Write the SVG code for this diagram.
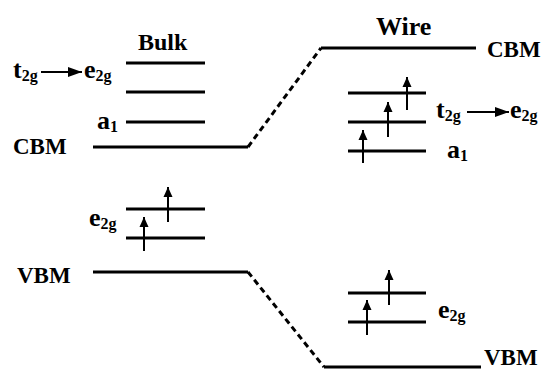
<svg xmlns="http://www.w3.org/2000/svg" width="542" height="371" viewBox="0 0 542 371">
<style>
.lv{stroke:#000;stroke-width:3;fill:none}
.dash{stroke:#000;stroke-width:3;fill:none;stroke-dasharray:6 4}
.sp{stroke:#000;stroke-width:2;fill:none}
.t{font-family:"Liberation Serif","Times New Roman",serif;font-weight:bold;fill:#000}
.big{font-size:24px}
.w{font-size:26px}
.m{font-size:23px}
.l{font-size:26px}
.s{font-size:16px}
</style>
<defs>
<marker id="ah" markerWidth="10" markerHeight="12" refX="10" refY="6" orient="auto" markerUnits="userSpaceOnUse">
<path d="M0,1.5 L10,6 L0,10.5 Z" fill="#000"/>
</marker>
<marker id="ha" markerWidth="14" markerHeight="12" refX="14" refY="6" orient="auto" markerUnits="userSpaceOnUse">
<path d="M0,1 L14,6 L0,11 Z" fill="#000"/>
</marker>
</defs>
<rect width="542" height="371" fill="#fff"/>
<g id="connectors">
<path class="dash" d="M248,147 L321,48"/>
<path class="dash" d="M248,272 L324,367"/>
</g>
<g id="bulk">
<text class="t big" x="138" y="50">Bulk</text>
<line class="lv" x1="126" y1="63" x2="205" y2="63"/>
<line class="lv" x1="126" y1="92" x2="205" y2="92"/>
<line class="lv" x1="126" y1="122" x2="205" y2="122"/>
<line class="lv" x1="93" y1="147" x2="248" y2="147"/>
<line class="lv" x1="126" y1="209" x2="205" y2="209"/>
<line class="lv" x1="126" y1="238" x2="205" y2="238"/>
<line class="lv" x1="93" y1="272" x2="248" y2="272"/>
<line class="sp" x1="144" y1="251" x2="144" y2="217" marker-end="url(#ah)"/>
<line class="sp" x1="168" y1="222" x2="168" y2="187" marker-end="url(#ah)"/>
<text class="t l" x="13" y="78">t<tspan class="s" dy="3">2g</tspan></text>
<line class="sp" x1="41" y1="72" x2="82" y2="72" marker-end="url(#ha)"/>
<text class="t l" x="84" y="78">e<tspan class="s" dy="3">2g</tspan></text>
<text class="t l" x="97" y="129">a<tspan class="s" dy="3">1</tspan></text>
<text class="t m" x="13" y="154">CBM</text>
<text class="t l" x="89" y="226">e<tspan class="s" dy="3">2g</tspan></text>
<text class="t m" x="17" y="283">VBM</text>
</g>
<g id="wire">
<text class="t w" x="376" y="35">Wire</text>
<line class="lv" x1="321" y1="48" x2="476" y2="48"/>
<text class="t m" x="487" y="57">CBM</text>
<line class="lv" x1="348" y1="93" x2="426" y2="93"/>
<line class="lv" x1="348" y1="122" x2="426" y2="122"/>
<line class="lv" x1="348" y1="151" x2="426" y2="151"/>
<line class="sp" x1="363" y1="163" x2="363" y2="130" marker-end="url(#ah)"/>
<line class="sp" x1="388" y1="137" x2="388" y2="102" marker-end="url(#ah)"/>
<line class="sp" x1="407" y1="110" x2="407" y2="77" marker-end="url(#ah)"/>
<text class="t l" x="436" y="118">t<tspan class="s" dy="3">2g</tspan></text>
<line class="sp" x1="467" y1="112" x2="509" y2="112" marker-end="url(#ha)"/>
<text class="t l" x="510" y="118">e<tspan class="s" dy="3">2g</tspan></text>
<text class="t l" x="447" y="158">a<tspan class="s" dy="3">1</tspan></text>
<line class="lv" x1="348" y1="293" x2="426" y2="293"/>
<line class="lv" x1="348" y1="322" x2="426" y2="322"/>
<line class="sp" x1="367" y1="335" x2="367" y2="300" marker-end="url(#ah)"/>
<line class="sp" x1="389" y1="305" x2="389" y2="270" marker-end="url(#ah)"/>
<text class="t l" x="438" y="318">e<tspan class="s" dy="3">2g</tspan></text>
<line class="lv" x1="324" y1="367" x2="481" y2="367"/>
<text class="t m" x="484" y="365">VBM</text>
</g>
</svg>
